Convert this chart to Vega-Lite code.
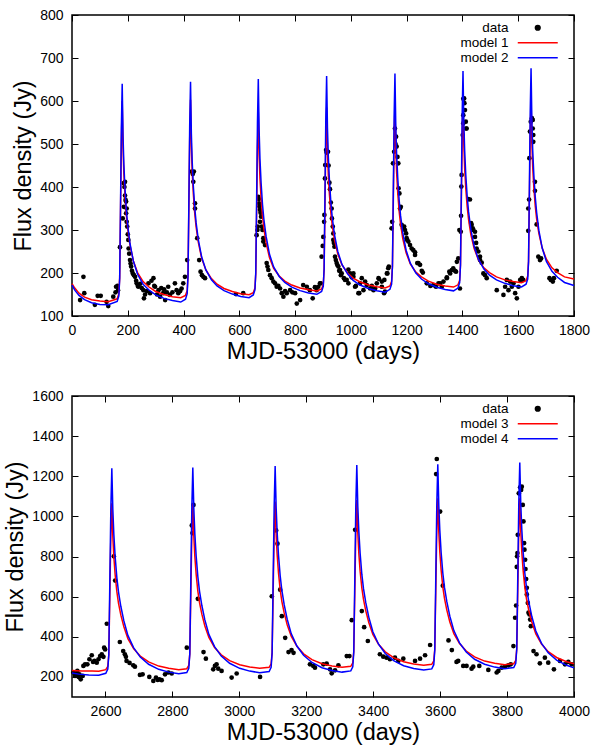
{
"$schema": "https://vega.github.io/schema/vega-lite/v6.json",
"padding": {"left": 3, "top": 7, "right": 10, "bottom": 2},
"spacing": 24,
"config": {
  "font": "Liberation Sans",
  "view": {"stroke": "#000", "strokeWidth": 1.5},
  "axis": {"domain": false, "grid": false, "labelFlush": false, "tickColor": "#000", "tickWidth": 1, "tickSize": -6, "labelFont": "Liberation Sans", "labelFontSize": 14, "labelColor": "#000", "titleFont": "Liberation Sans", "titleFontSize": 23.5, "titleFontWeight": "normal", "titleColor": "#000"},
  "axisX": {"labelPadding": 13, "titlePadding": 2},
  "axisY": {"labelPadding": 15, "titlePadding": 4},
  "legend": {"title": null, "orient": "top-right", "offset": 6, "padding": 0, "symbolSize": 100, "symbolStrokeWidth": 1.5, "labelAlign": "right", "labelOffset": -36, "labelFontSize": 13.5, "labelFont": "Liberation Sans", "labelColor": "#000", "rowPadding": 0}
},
"resolve": {"scale": {"color": "independent"}, "legend": {"color": "independent"}},
"datasets": {
"top": [
{"t":29,"f":137,"s":"data"},{"t":41,"f":191,"s":"data"},{"t":44,"f":153,"s":"data"},{"t":82,"f":126,"s":"data"},{"t":92,"f":147,"s":"data"},{"t":103,"f":147,"s":"data"},{"t":124,"f":133,"s":"data"},{"t":130,"f":123,"s":"data"},{"t":148,"f":145,"s":"data"},{"t":156,"f":155,"s":"data"},{"t":158,"f":168,"s":"data"},{"t":163,"f":170,"s":"data"},{"t":165,"f":160,"s":"data"},
{"t":172,"f":260,"s":"data"},{"t":182,"f":327,"s":"data"},{"t":186,"f":354,"s":"data"},{"t":186,"f":409,"s":"data"},{"t":188,"f":400,"s":"data"},{"t":190,"f":412,"s":"data"},{"t":190,"f":380,"s":"data"},{"t":192,"f":370,"s":"data"},{"t":194,"f":366,"s":"data"},{"t":194,"f":339,"s":"data"},{"t":196,"f":319,"s":"data"},{"t":196,"f":350,"s":"data"},{"t":198,"f":308,"s":"data"},{"t":200,"f":290,"s":"data"},{"t":202,"f":277,"s":"data"},{"t":203,"f":257,"s":"data"},{"t":205,"f":245,"s":"data"},{"t":208,"f":230,"s":"data"},{"t":210,"f":222,"s":"data"},{"t":212,"f":215,"s":"data"},{"t":215,"f":205,"s":"data"},{"t":218,"f":199,"s":"data"},{"t":222,"f":195,"s":"data"},{"t":226,"f":191,"s":"data"},{"t":230,"f":182,"s":"data"},{"t":232,"f":176,"s":"data"},{"t":236,"f":170,"s":"data"},{"t":238,"f":168,"s":"data"},{"t":245,"f":175,"s":"data"},{"t":250,"f":165,"s":"data"},{"t":256,"f":160,"s":"data"},{"t":258,"f":141,"s":"data"},{"t":262,"f":150,"s":"data"},{"t":268,"f":158,"s":"data"},{"t":274,"f":176,"s":"data"},{"t":280,"f":153,"s":"data"},{"t":285,"f":182,"s":"data"},{"t":292,"f":188,"s":"data"},{"t":295,"f":170,"s":"data"},{"t":298,"f":168,"s":"data"},{"t":305,"f":150,"s":"data"},{"t":310,"f":160,"s":"data"},{"t":316,"f":145,"s":"data"},{"t":320,"f":165,"s":"data"},{"t":327,"f":153,"s":"data"},{"t":330,"f":162,"s":"data"},{"t":334,"f":137,"s":"data"},{"t":340,"f":155,"s":"data"},{"t":345,"f":168,"s":"data"},{"t":351,"f":149,"s":"data"},{"t":360,"f":155,"s":"data"},{"t":369,"f":176,"s":"data"},{"t":375,"f":160,"s":"data"},{"t":381,"f":153,"s":"data"},{"t":388,"f":158,"s":"data"},{"t":393,"f":164,"s":"data"},{"t":399,"f":176,"s":"data"},{"t":405,"f":191,"s":"data"},
{"t":413,"f":230,"s":"data"},{"t":429,"f":436,"s":"data"},{"t":433,"f":430,"s":"data"},{"t":437,"f":436,"s":"data"},{"t":435,"f":412,"s":"data"},{"t":441,"f":362,"s":"data"},{"t":441,"f":350,"s":"data"},{"t":449,"f":281,"s":"data"},{"t":456,"f":230,"s":"data"},{"t":461,"f":203,"s":"data"},{"t":466,"f":195,"s":"data"},{"t":471,"f":191,"s":"data"},{"t":477,"f":188,"s":"data"},{"t":588,"f":151,"s":"data"},{"t":614,"f":153,"s":"data"},
{"t":662,"f":288,"s":"data"},{"t":665,"f":300,"s":"data"},{"t":666,"f":308,"s":"data"},{"t":668,"f":377,"s":"data"},{"t":670,"f":372,"s":"data"},{"t":671,"f":362,"s":"data"},{"t":672,"f":355,"s":"data"},{"t":674,"f":347,"s":"data"},{"t":676,"f":340,"s":"data"},{"t":678,"f":331,"s":"data"},{"t":674,"f":319,"s":"data"},{"t":680,"f":308,"s":"data"},{"t":683,"f":300,"s":"data"},{"t":686,"f":281,"s":"data"},{"t":686,"f":273,"s":"data"},{"t":692,"f":265,"s":"data"},{"t":698,"f":223,"s":"data"},{"t":701,"f":215,"s":"data"},{"t":704,"f":207,"s":"data"},{"t":710,"f":195,"s":"data"},{"t":716,"f":188,"s":"data"},{"t":722,"f":180,"s":"data"},{"t":728,"f":176,"s":"data"},{"t":734,"f":168,"s":"data"},{"t":740,"f":170,"s":"data"},{"t":746,"f":164,"s":"data"},{"t":752,"f":153,"s":"data"},{"t":758,"f":145,"s":"data"},{"t":764,"f":158,"s":"data"},{"t":770,"f":153,"s":"data"},{"t":782,"f":160,"s":"data"},{"t":790,"f":155,"s":"data"},{"t":800,"f":153,"s":"data"},{"t":806,"f":129,"s":"data"},{"t":818,"f":137,"s":"data"},{"t":829,"f":172,"s":"data"},{"t":842,"f":168,"s":"data"},{"t":853,"f":160,"s":"data"},{"t":863,"f":141,"s":"data"},{"t":871,"f":167,"s":"data"},{"t":877,"f":160,"s":"data"},{"t":883,"f":168,"s":"data"},{"t":889,"f":176,"s":"data"},{"t":892,"f":176,"s":"data"},
{"t":895,"f":238,"s":"data"},{"t":899,"f":263,"s":"data"},{"t":901,"f":284,"s":"data"},{"t":904,"f":319,"s":"data"},{"t":905,"f":335,"s":"data"},{"t":907,"f":420,"s":"data"},{"t":908,"f":451,"s":"data"},{"t":911,"f":486,"s":"data"},{"t":913,"f":480,"s":"data"},{"t":918,"f":482,"s":"data"},{"t":920,"f":450,"s":"data"},{"t":923,"f":410,"s":"data"},{"t":925,"f":395,"s":"data"},{"t":928,"f":364,"s":"data"},{"t":931,"f":350,"s":"data"},{"t":932,"f":327,"s":"data"},{"t":935,"f":308,"s":"data"},{"t":937,"f":292,"s":"data"},{"t":937,"f":277,"s":"data"},{"t":939,"f":270,"s":"data"},{"t":941,"f":261,"s":"data"},{"t":943,"f":238,"s":"data"},{"t":946,"f":230,"s":"data"},{"t":949,"f":223,"s":"data"},{"t":952,"f":218,"s":"data"},{"t":955,"f":215,"s":"data"},{"t":958,"f":205,"s":"data"},{"t":961,"f":207,"s":"data"},{"t":964,"f":195,"s":"data"},{"t":967,"f":199,"s":"data"},{"t":975,"f":188,"s":"data"},{"t":979,"f":184,"s":"data"},{"t":985,"f":184,"s":"data"},{"t":991,"f":176,"s":"data"},{"t":991,"f":208,"s":"data"},{"t":997,"f":199,"s":"data"},{"t":1003,"f":190,"s":"data"},{"t":1009,"f":199,"s":"data"},{"t":1009,"f":191,"s":"data"},{"t":1015,"f":168,"s":"data"},{"t":1018,"f":170,"s":"data"},{"t":1027,"f":153,"s":"data"},{"t":1030,"f":153,"s":"data"},{"t":1033,"f":176,"s":"data"},{"t":1039,"f":188,"s":"data"},{"t":1045,"f":160,"s":"data"},{"t":1051,"f":180,"s":"data"},{"t":1057,"f":172,"s":"data"},{"t":1069,"f":164,"s":"data"},{"t":1075,"f":170,"s":"data"},{"t":1081,"f":160,"s":"data"},{"t":1087,"f":164,"s":"data"},{"t":1093,"f":176,"s":"data"},{"t":1099,"f":188,"s":"data"},{"t":1101,"f":186,"s":"data"},{"t":1111,"f":168,"s":"data"},{"t":1111,"f":180,"s":"data"},{"t":1119,"f":153,"s":"data"},{"t":1120,"f":184,"s":"data"},{"t":1122,"f":157,"s":"data"},{"t":1129,"f":199,"s":"data"},{"t":1131,"f":199,"s":"data"},{"t":1134,"f":211,"s":"data"},{"t":1136,"f":215,"s":"data"},
{"t":1146,"f":304,"s":"data"},{"t":1148,"f":319,"s":"data"},{"t":1151,"f":455,"s":"data"},{"t":1155,"f":482,"s":"data"},{"t":1158,"f":536,"s":"data"},{"t":1160,"f":500,"s":"data"},{"t":1162,"f":517,"s":"data"},{"t":1164,"f":494,"s":"data"},{"t":1167,"f":470,"s":"data"},{"t":1170,"f":455,"s":"data"},{"t":1171,"f":397,"s":"data"},{"t":1174,"f":385,"s":"data"},{"t":1176,"f":350,"s":"data"},{"t":1179,"f":354,"s":"data"},{"t":1182,"f":312,"s":"data"},{"t":1188,"f":304,"s":"data"},{"t":1191,"f":308,"s":"data"},{"t":1194,"f":300,"s":"data"},{"t":1198,"f":292,"s":"data"},{"t":1200,"f":281,"s":"data"},{"t":1202,"f":277,"s":"data"},{"t":1206,"f":273,"s":"data"},{"t":1212,"f":265,"s":"data"},{"t":1218,"f":257,"s":"data"},{"t":1224,"f":253,"s":"data"},{"t":1230,"f":248,"s":"data"},{"t":1230,"f":242,"s":"data"},{"t":1238,"f":223,"s":"data"},{"t":1242,"f":223,"s":"data"},{"t":1248,"f":219,"s":"data"},{"t":1254,"f":205,"s":"data"},{"t":1258,"f":201,"s":"data"},{"t":1272,"f":176,"s":"data"},{"t":1285,"f":170,"s":"data"},{"t":1296,"f":172,"s":"data"},{"t":1305,"f":168,"s":"data"},{"t":1314,"f":176,"s":"data"},{"t":1320,"f":176,"s":"data"},{"t":1326,"f":168,"s":"data"},{"t":1332,"f":180,"s":"data"},{"t":1344,"f":188,"s":"data"},{"t":1344,"f":190,"s":"data"},{"t":1353,"f":203,"s":"data"},{"t":1356,"f":199,"s":"data"},{"t":1362,"f":207,"s":"data"},{"t":1367,"f":211,"s":"data"},{"t":1373,"f":205,"s":"data"},{"t":1377,"f":203,"s":"data"},{"t":1380,"f":226,"s":"data"},{"t":1385,"f":234,"s":"data"},
{"t":1389,"f":300,"s":"data"},{"t":1391,"f":164,"s":"data"},{"t":1394,"f":296,"s":"data"},{"t":1395,"f":333,"s":"data"},{"t":1396,"f":401,"s":"data"},{"t":1397,"f":428,"s":"data"},{"t":1401,"f":521,"s":"data"},{"t":1403,"f":567,"s":"data"},{"t":1403,"f":605,"s":"data"},{"t":1406,"f":606,"s":"data"},{"t":1407,"f":595,"s":"data"},{"t":1409,"f":579,"s":"data"},{"t":1403,"f":548,"s":"data"},{"t":1412,"f":552,"s":"data"},{"t":1413,"f":536,"s":"data"},{"t":1415,"f":536,"s":"data"},{"t":1421,"f":372,"s":"data"},{"t":1427,"f":371,"s":"data"},{"t":1431,"f":316,"s":"data"},{"t":1433,"f":312,"s":"data"},{"t":1437,"f":304,"s":"data"},{"t":1439,"f":300,"s":"data"},{"t":1445,"f":296,"s":"data"},{"t":1445,"f":284,"s":"data"},{"t":1449,"f":270,"s":"data"},{"t":1451,"f":257,"s":"data"},{"t":1457,"f":250,"s":"data"},{"t":1463,"f":238,"s":"data"},{"t":1463,"f":230,"s":"data"},{"t":1469,"f":224,"s":"data"},{"t":1475,"f":199,"s":"data"},{"t":1481,"f":195,"s":"data"},{"t":1487,"f":188,"s":"data"},
{"t":1523,"f":160,"s":"data"},{"t":1547,"f":149,"s":"data"},{"t":1553,"f":168,"s":"data"},{"t":1559,"f":184,"s":"data"},{"t":1565,"f":160,"s":"data"},{"t":1571,"f":180,"s":"data"},{"t":1577,"f":168,"s":"data"},{"t":1583,"f":176,"s":"data"},{"t":1589,"f":153,"s":"data"},{"t":1595,"f":141,"s":"data"},{"t":1601,"f":168,"s":"data"},{"t":1607,"f":184,"s":"data"},{"t":1613,"f":188,"s":"data"},{"t":1618,"f":184,"s":"data"},
{"t":1636,"f":298,"s":"data"},{"t":1636,"f":350,"s":"data"},{"t":1639,"f":371,"s":"data"},{"t":1640,"f":467,"s":"data"},{"t":1642,"f":529,"s":"data"},{"t":1645,"f":552,"s":"data"},{"t":1649,"f":560,"s":"data"},{"t":1652,"f":556,"s":"data"},{"t":1652,"f":536,"s":"data"},{"t":1654,"f":521,"s":"data"},{"t":1654,"f":505,"s":"data"},{"t":1660,"f":412,"s":"data"},{"t":1660,"f":391,"s":"data"},{"t":1666,"f":313,"s":"data"},{"t":1672,"f":238,"s":"data"},{"t":1678,"f":230,"s":"data"},{"t":1682,"f":234,"s":"data"},{"t":1712,"f":188,"s":"data"},{"t":1717,"f":184,"s":"data"},{"t":1724,"f":180,"s":"data"},{"t":1728,"f":188,"s":"data"},{"t":1738,"f":205,"s":"data"},
{"t":0,"f":175,"s":"model 1"},{"t":10,"f":165,"s":"model 1"},{"t":25,"f":153,"s":"model 1"},{"t":45,"f":144,"s":"model 1"},{"t":70,"f":138,"s":"model 1"},{"t":100,"f":135,"s":"model 1"},{"t":130,"f":133,"s":"model 1"},
{"t":162,"f":140,"s":"model 1"},{"t":168,"f":152,"s":"model 1"},{"t":171,"f":189,"s":"model 1"},{"t":174,"f":343,"s":"model 1"},{"t":177,"f":507,"s":"model 1"},{"t":180,"f":600,"s":"model 1"},{"t":183,"f":490,"s":"model 1"},{"t":186,"f":430,"s":"model 1"},{"t":190,"f":380,"s":"model 1"},{"t":195,"f":334,"s":"model 1"},{"t":200,"f":302,"s":"model 1"},{"t":208,"f":265,"s":"model 1"},{"t":220,"f":228,"s":"model 1"},{"t":235,"f":201,"s":"model 1"},{"t":255,"f":180,"s":"model 1"},{"t":275,"f":168,"s":"model 1"},{"t":300,"f":157,"s":"model 1"},{"t":330,"f":150,"s":"model 1"},{"t":360,"f":145,"s":"model 1"},{"t":390,"f":142.4,"s":"model 1"},
{"t":407,"f":148,"s":"model 1"},{"t":413,"f":159.5,"s":"model 1"},{"t":416,"f":196,"s":"model 1"},{"t":419,"f":349,"s":"model 1"},{"t":422,"f":511,"s":"model 1"},{"t":425,"f":603,"s":"model 1"},{"t":428,"f":494,"s":"model 1"},{"t":431,"f":435,"s":"model 1"},{"t":435,"f":385,"s":"model 1"},{"t":440,"f":339,"s":"model 1"},{"t":445,"f":307,"s":"model 1"},{"t":453,"f":271,"s":"model 1"},{"t":465,"f":234,"s":"model 1"},{"t":480,"f":207,"s":"model 1"},{"t":500,"f":187,"s":"model 1"},{"t":520,"f":174,"s":"model 1"},{"t":545,"f":164,"s":"model 1"},{"t":575,"f":157,"s":"model 1"},{"t":605,"f":152,"s":"model 1"},{"t":635,"f":149.4,"s":"model 1"},
{"t":650,"f":154,"s":"model 1"},{"t":656,"f":165,"s":"model 1"},{"t":659,"f":199,"s":"model 1"},{"t":662,"f":340,"s":"model 1"},{"t":665,"f":490,"s":"model 1"},{"t":668,"f":575,"s":"model 1"},{"t":671,"f":475,"s":"model 1"},{"t":674,"f":420,"s":"model 1"},{"t":678,"f":374,"s":"model 1"},{"t":683,"f":333,"s":"model 1"},{"t":688,"f":303,"s":"model 1"},{"t":696,"f":270,"s":"model 1"},{"t":708,"f":236,"s":"model 1"},{"t":723,"f":211,"s":"model 1"},{"t":743,"f":193,"s":"model 1"},{"t":763,"f":181,"s":"model 1"},{"t":788,"f":172,"s":"model 1"},{"t":818,"f":165,"s":"model 1"},{"t":848,"f":161,"s":"model 1"},{"t":878,"f":158.3,"s":"model 1"},
{"t":895,"f":163,"s":"model 1"},{"t":901,"f":174,"s":"model 1"},{"t":904,"f":208,"s":"model 1"},{"t":907,"f":350,"s":"model 1"},{"t":910,"f":499,"s":"model 1"},{"t":913,"f":585,"s":"model 1"},{"t":916,"f":484,"s":"model 1"},{"t":919,"f":429,"s":"model 1"},{"t":923,"f":383,"s":"model 1"},{"t":928,"f":341,"s":"model 1"},{"t":933,"f":311,"s":"model 1"},{"t":941,"f":278,"s":"model 1"},{"t":953,"f":244,"s":"model 1"},{"t":968,"f":219,"s":"model 1"},{"t":988,"f":200,"s":"model 1"},{"t":1008,"f":188,"s":"model 1"},{"t":1033,"f":179,"s":"model 1"},{"t":1063,"f":172,"s":"model 1"},{"t":1093,"f":168,"s":"model 1"},{"t":1123,"f":165.3,"s":"model 1"},
{"t":1140,"f":170,"s":"model 1"},{"t":1146,"f":181,"s":"model 1"},{"t":1149,"f":215,"s":"model 1"},{"t":1152,"f":356,"s":"model 1"},{"t":1155,"f":505,"s":"model 1"},{"t":1158,"f":590,"s":"model 1"},{"t":1161,"f":488,"s":"model 1"},{"t":1164,"f":433,"s":"model 1"},{"t":1168,"f":386,"s":"model 1"},{"t":1173,"f":344,"s":"model 1"},{"t":1178,"f":314,"s":"model 1"},{"t":1186,"f":280,"s":"model 1"},{"t":1198,"f":247,"s":"model 1"},{"t":1213,"f":221,"s":"model 1"},{"t":1233,"f":202,"s":"model 1"},{"t":1253,"f":191,"s":"model 1"},{"t":1278,"f":181,"s":"model 1"},{"t":1308,"f":174,"s":"model 1"},{"t":1338,"f":170,"s":"model 1"},{"t":1368,"f":167.3,"s":"model 1"},
{"t":1384,"f":172.5,"s":"model 1"},{"t":1390,"f":183,"s":"model 1"},{"t":1393,"f":218,"s":"model 1"},{"t":1396,"f":361,"s":"model 1"},{"t":1399,"f":513,"s":"model 1"},{"t":1402,"f":600,"s":"model 1"},{"t":1405,"f":498,"s":"model 1"},{"t":1408,"f":443,"s":"model 1"},{"t":1412,"f":396,"s":"model 1"},{"t":1417,"f":354,"s":"model 1"},{"t":1422,"f":324,"s":"model 1"},{"t":1430,"f":290,"s":"model 1"},{"t":1442,"f":257,"s":"model 1"},{"t":1457,"f":231,"s":"model 1"},{"t":1477,"f":212,"s":"model 1"},{"t":1497,"f":201,"s":"model 1"},{"t":1522,"f":191,"s":"model 1"},{"t":1552,"f":184,"s":"model 1"},{"t":1582,"f":180,"s":"model 1"},{"t":1612,"f":177.3,"s":"model 1"},
{"t":1628,"f":182,"s":"model 1"},{"t":1634,"f":193,"s":"model 1"},{"t":1637,"f":227,"s":"model 1"},{"t":1640,"f":369,"s":"model 1"},{"t":1643,"f":519,"s":"model 1"},{"t":1646,"f":605,"s":"model 1"},{"t":1649,"f":502,"s":"model 1"},{"t":1652,"f":446,"s":"model 1"},{"t":1656,"f":399,"s":"model 1"},{"t":1661,"f":356,"s":"model 1"},{"t":1666,"f":326,"s":"model 1"},{"t":1674,"f":292,"s":"model 1"},{"t":1686,"f":258,"s":"model 1"},{"t":1701,"f":232,"s":"model 1"},{"t":1721,"f":212,"s":"model 1"},{"t":1741,"f":201,"s":"model 1"},{"t":1766,"f":191,"s":"model 1"},{"t":1800,"f":186,"s":"model 1"},
{"t":0,"f":172,"s":"model 2"},{"t":10,"f":160,"s":"model 2"},{"t":25,"f":148,"s":"model 2"},{"t":45,"f":138,"s":"model 2"},{"t":70,"f":131,"s":"model 2"},{"t":100,"f":127,"s":"model 2"},{"t":130,"f":126,"s":"model 2"},
{"t":162,"f":134,"s":"model 2"},{"t":168,"f":147,"s":"model 2"},{"t":171,"f":188,"s":"model 2"},{"t":174,"f":357,"s":"model 2"},{"t":177,"f":537,"s":"model 2"},{"t":180,"f":640,"s":"model 2"},{"t":183,"f":518,"s":"model 2"},{"t":186,"f":452,"s":"model 2"},{"t":190,"f":396,"s":"model 2"},{"t":195,"f":345,"s":"model 2"},{"t":200,"f":309,"s":"model 2"},{"t":208,"f":268,"s":"model 2"},{"t":220,"f":228,"s":"model 2"},{"t":235,"f":197,"s":"model 2"},{"t":255,"f":174,"s":"model 2"},{"t":275,"f":161,"s":"model 2"},{"t":300,"f":149,"s":"model 2"},{"t":330,"f":141,"s":"model 2"},{"t":360,"f":136,"s":"model 2"},{"t":390,"f":132.5,"s":"model 2"},
{"t":407,"f":139,"s":"model 2"},{"t":413,"f":152,"s":"model 2"},{"t":416,"f":193,"s":"model 2"},{"t":419,"f":362,"s":"model 2"},{"t":422,"f":542,"s":"model 2"},{"t":425,"f":645,"s":"model 2"},{"t":428,"f":524,"s":"model 2"},{"t":431,"f":459,"s":"model 2"},{"t":435,"f":403,"s":"model 2"},{"t":440,"f":353,"s":"model 2"},{"t":445,"f":317,"s":"model 2"},{"t":453,"f":277,"s":"model 2"},{"t":465,"f":237,"s":"model 2"},{"t":480,"f":207,"s":"model 2"},{"t":500,"f":184,"s":"model 2"},{"t":520,"f":170,"s":"model 2"},{"t":545,"f":159,"s":"model 2"},{"t":575,"f":151,"s":"model 2"},{"t":605,"f":145.5,"s":"model 2"},{"t":635,"f":142.5,"s":"model 2"},
{"t":650,"f":149,"s":"model 2"},{"t":656,"f":161,"s":"model 2"},{"t":659,"f":202,"s":"model 2"},{"t":662,"f":371,"s":"model 2"},{"t":665,"f":549,"s":"model 2"},{"t":668,"f":651,"s":"model 2"},{"t":671,"f":531,"s":"model 2"},{"t":674,"f":465,"s":"model 2"},{"t":678,"f":410,"s":"model 2"},{"t":683,"f":360,"s":"model 2"},{"t":688,"f":325,"s":"model 2"},{"t":696,"f":285,"s":"model 2"},{"t":708,"f":244,"s":"model 2"},{"t":723,"f":214,"s":"model 2"},{"t":743,"f":192,"s":"model 2"},{"t":763,"f":178,"s":"model 2"},{"t":788,"f":167,"s":"model 2"},{"t":818,"f":159,"s":"model 2"},{"t":848,"f":153.5,"s":"model 2"},{"t":878,"f":150.5,"s":"model 2"},
{"t":895,"f":157,"s":"model 2"},{"t":901,"f":169,"s":"model 2"},{"t":904,"f":210,"s":"model 2"},{"t":907,"f":378,"s":"model 2"},{"t":910,"f":556,"s":"model 2"},{"t":913,"f":658,"s":"model 2"},{"t":916,"f":537,"s":"model 2"},{"t":919,"f":472,"s":"model 2"},{"t":923,"f":416,"s":"model 2"},{"t":928,"f":366,"s":"model 2"},{"t":933,"f":330,"s":"model 2"},{"t":941,"f":290,"s":"model 2"},{"t":953,"f":250,"s":"model 2"},{"t":968,"f":220,"s":"model 2"},{"t":988,"f":198,"s":"model 2"},{"t":1008,"f":183,"s":"model 2"},{"t":1033,"f":172,"s":"model 2"},{"t":1063,"f":164,"s":"model 2"},{"t":1093,"f":158.5,"s":"model 2"},{"t":1123,"f":155.5,"s":"model 2"},
{"t":1140,"f":162,"s":"model 2"},{"t":1146,"f":174,"s":"model 2"},{"t":1149,"f":215,"s":"model 2"},{"t":1152,"f":384,"s":"model 2"},{"t":1155,"f":562,"s":"model 2"},{"t":1158,"f":664,"s":"model 2"},{"t":1161,"f":542,"s":"model 2"},{"t":1164,"f":476,"s":"model 2"},{"t":1168,"f":421,"s":"model 2"},{"t":1173,"f":370,"s":"model 2"},{"t":1178,"f":334,"s":"model 2"},{"t":1186,"f":294,"s":"model 2"},{"t":1198,"f":253,"s":"model 2"},{"t":1213,"f":223,"s":"model 2"},{"t":1233,"f":200,"s":"model 2"},{"t":1253,"f":186,"s":"model 2"},{"t":1278,"f":175,"s":"model 2"},{"t":1308,"f":167,"s":"model 2"},{"t":1338,"f":161.6,"s":"model 2"},{"t":1368,"f":158.5,"s":"model 2"},
{"t":1384,"f":165,"s":"model 2"},{"t":1390,"f":177.5,"s":"model 2"},{"t":1393,"f":219,"s":"model 2"},{"t":1396,"f":388,"s":"model 2"},{"t":1399,"f":567,"s":"model 2"},{"t":1402,"f":670,"s":"model 2"},{"t":1405,"f":549,"s":"model 2"},{"t":1408,"f":484,"s":"model 2"},{"t":1412,"f":428,"s":"model 2"},{"t":1417,"f":378,"s":"model 2"},{"t":1422,"f":342,"s":"model 2"},{"t":1430,"f":302,"s":"model 2"},{"t":1442,"f":262,"s":"model 2"},{"t":1457,"f":232,"s":"model 2"},{"t":1477,"f":209,"s":"model 2"},{"t":1497,"f":195,"s":"model 2"},{"t":1522,"f":184,"s":"model 2"},{"t":1552,"f":176,"s":"model 2"},{"t":1582,"f":170.5,"s":"model 2"},{"t":1612,"f":167.5,"s":"model 2"},
{"t":1628,"f":174,"s":"model 2"},{"t":1634,"f":186,"s":"model 2"},{"t":1637,"f":227,"s":"model 2"},{"t":1640,"f":396,"s":"model 2"},{"t":1643,"f":574,"s":"model 2"},{"t":1646,"f":676,"s":"model 2"},{"t":1649,"f":552,"s":"model 2"},{"t":1652,"f":485,"s":"model 2"},{"t":1656,"f":428,"s":"model 2"},{"t":1661,"f":377,"s":"model 2"},{"t":1666,"f":341,"s":"model 2"},{"t":1674,"f":299,"s":"model 2"},{"t":1686,"f":258,"s":"model 2"},{"t":1701,"f":227,"s":"model 2"},{"t":1721,"f":204,"s":"model 2"},{"t":1741,"f":190,"s":"model 2"},{"t":1766,"f":178,"s":"model 2"},{"t":1800,"f":171,"s":"model 2"}
],
"bot": [
{"t":2504,"f":222,"s":"data"},{"t":2509,"f":205,"s":"data"},{"t":2512,"f":215,"s":"data"},{"t":2516,"f":230,"s":"data"},{"t":2520,"f":200,"s":"data"},{"t":2522,"f":213,"s":"data"},{"t":2526,"f":188,"s":"data"},{"t":2532,"f":205,"s":"data"},{"t":2534,"f":255,"s":"data"},{"t":2539,"f":263,"s":"data"},{"t":2546,"f":263,"s":"data"},{"t":2552,"f":288,"s":"data"},{"t":2559,"f":308,"s":"data"},{"t":2563,"f":275,"s":"data"},{"t":2567,"f":280,"s":"data"},{"t":2574,"f":271,"s":"data"},{"t":2579,"f":288,"s":"data"},{"t":2584,"f":304,"s":"data"},{"t":2589,"f":313,"s":"data"},{"t":2594,"f":300,"s":"data"},{"t":2596,"f":346,"s":"data"},{"t":2599,"f":337,"s":"data"},{"t":2604,"f":465,"s":"data"},{"t":2625,"f":801,"s":"data"},{"t":2629,"f":680,"s":"data"},{"t":2643,"f":374,"s":"data"},{"t":2653,"f":329,"s":"data"},{"t":2658,"f":313,"s":"data"},{"t":2661,"f":300,"s":"data"},{"t":2663,"f":280,"s":"data"},{"t":2672,"f":270,"s":"data"},{"t":2683,"f":258,"s":"data"},{"t":2688,"f":251,"s":"data"},{"t":2703,"f":210,"s":"data"},{"t":2711,"f":213,"s":"data"},{"t":2731,"f":200,"s":"data"},{"t":2743,"f":180,"s":"data"},{"t":2751,"f":197,"s":"data"},{"t":2756,"f":185,"s":"data"},{"t":2761,"f":188,"s":"data"},{"t":2768,"f":184,"s":"data"},{"t":2778,"f":213,"s":"data"},{"t":2788,"f":222,"s":"data"},{"t":2798,"f":217,"s":"data"},
{"t":2843,"f":346,"s":"data"},{"t":2858,"f":955,"s":"data"},{"t":2860,"f":917,"s":"data"},{"t":2863,"f":1057,"s":"data"},{"t":2876,"f":589,"s":"data"},{"t":2893,"f":324,"s":"data"},{"t":2900,"f":291,"s":"data"},{"t":2922,"f":238,"s":"data"},{"t":2927,"f":255,"s":"data"},{"t":2932,"f":263,"s":"data"},{"t":2937,"f":241,"s":"data"},{"t":2947,"f":230,"s":"data"},{"t":2977,"f":197,"s":"data"},{"t":2992,"f":217,"s":"data"},{"t":3062,"f":200,"s":"data"},
{"t":3097,"f":602,"s":"data"},{"t":3110,"f":930,"s":"data"},{"t":3114,"f":864,"s":"data"},{"t":3122,"f":635,"s":"data"},{"t":3127,"f":503,"s":"data"},{"t":3137,"f":395,"s":"data"},{"t":3147,"f":324,"s":"data"},{"t":3156,"f":334,"s":"data"},{"t":3162,"f":320,"s":"data"},
{"t":3211,"f":263,"s":"data"},{"t":3221,"f":255,"s":"data"},{"t":3226,"f":246,"s":"data"},{"t":3251,"f":263,"s":"data"},{"t":3261,"f":266,"s":"data"},{"t":3271,"f":238,"s":"data"},{"t":3276,"f":218,"s":"data"},{"t":3286,"f":233,"s":"data"},{"t":3296,"f":258,"s":"data"},
{"t":3321,"f":304,"s":"data"},{"t":3329,"f":304,"s":"data"},{"t":3336,"f":483,"s":"data"},{"t":3346,"f":933,"s":"data"},{"t":3366,"f":528,"s":"data"},{"t":3373,"f":448,"s":"data"},{"t":3384,"f":379,"s":"data"},{"t":3420,"f":313,"s":"data"},{"t":3430,"f":301,"s":"data"},{"t":3440,"f":296,"s":"data"},{"t":3450,"f":288,"s":"data"},{"t":3465,"f":296,"s":"data"},{"t":3475,"f":280,"s":"data"},{"t":3490,"f":291,"s":"data"},{"t":3525,"f":280,"s":"data"},{"t":3540,"f":291,"s":"data"},{"t":3555,"f":308,"s":"data"},{"t":3570,"f":359,"s":"data"},
{"t":3588,"f":1211,"s":"data"},{"t":3590,"f":1286,"s":"data"},{"t":3600,"f":1024,"s":"data"},{"t":3608,"f":655,"s":"data"},{"t":3625,"f":382,"s":"data"},{"t":3635,"f":334,"s":"data"},{"t":3649,"f":275,"s":"data"},{"t":3654,"f":280,"s":"data"},{"t":3669,"f":255,"s":"data"},{"t":3679,"f":255,"s":"data"},{"t":3694,"f":241,"s":"data"},{"t":3699,"f":251,"s":"data"},{"t":3717,"f":255,"s":"data"},{"t":3744,"f":235,"s":"data"},{"t":3769,"f":222,"s":"data"},{"t":3774,"f":230,"s":"data"},{"t":3784,"f":246,"s":"data"},{"t":3794,"f":251,"s":"data"},{"t":3804,"f":258,"s":"data"},{"t":3811,"f":263,"s":"data"},{"t":3819,"f":354,"s":"data"},
{"t":3824,"f":495,"s":"data"},{"t":3827,"f":556,"s":"data"},{"t":3829,"f":748,"s":"data"},{"t":3830,"f":801,"s":"data"},{"t":3831,"f":817,"s":"data"},{"t":3832,"f":908,"s":"data"},{"t":3835,"f":1115,"s":"data"},{"t":3839,"f":1145,"s":"data"},{"t":3842,"f":1132,"s":"data"},{"t":3844,"f":1148,"s":"data"},{"t":3847,"f":1057,"s":"data"},{"t":3849,"f":975,"s":"data"},{"t":3851,"f":867,"s":"data"},{"t":3852,"f":834,"s":"data"},{"t":3854,"f":784,"s":"data"},{"t":3855,"f":738,"s":"data"},{"t":3857,"f":688,"s":"data"},{"t":3859,"f":644,"s":"data"},{"t":3859,"f":611,"s":"data"},{"t":3862,"f":569,"s":"data"},{"t":3864,"f":520,"s":"data"},{"t":3867,"f":511,"s":"data"},{"t":3869,"f":486,"s":"data"},{"t":3871,"f":453,"s":"data"},{"t":3879,"f":329,"s":"data"},{"t":3888,"f":313,"s":"data"},{"t":3898,"f":268,"s":"data"},{"t":3913,"f":296,"s":"data"},{"t":3923,"f":271,"s":"data"},{"t":3940,"f":238,"s":"data"},{"t":3958,"f":280,"s":"data"},{"t":3973,"f":263,"s":"data"},{"t":3983,"f":275,"s":"data"},{"t":3993,"f":263,"s":"data"},
{"t":2500,"f":232,"s":"model 3"},{"t":2530,"f":230,"s":"model 3"},{"t":2560,"f":229,"s":"model 3"},{"t":2580,"f":228,"s":"model 3"},
{"t":2601,"f":236,"s":"model 3"},{"t":2607,"f":253,"s":"model 3"},{"t":2610,"f":312,"s":"model 3"},{"t":2613,"f":605,"s":"model 3"},{"t":2616,"f":898,"s":"model 3"},{"t":2619,"f":1066,"s":"model 3"},{"t":2622,"f":899,"s":"model 3"},{"t":2625,"f":799,"s":"model 3"},{"t":2629,"f":708,"s":"model 3"},{"t":2634,"f":625,"s":"model 3"},{"t":2639,"f":566,"s":"model 3"},{"t":2646,"f":508,"s":"model 3"},{"t":2655,"f":450,"s":"model 3"},{"t":2667,"f":391,"s":"model 3"},{"t":2684,"f":341,"s":"model 3"},{"t":2704,"f":304,"s":"model 3"},{"t":2729,"f":275,"s":"model 3"},{"t":2759,"f":254,"s":"model 3"},{"t":2789,"f":243,"s":"model 3"},{"t":2819,"f":236,"s":"model 3"},
{"t":2843,"f":241,"s":"model 3"},{"t":2849,"f":258,"s":"model 3"},{"t":2852,"f":316,"s":"model 3"},{"t":2855,"f":608,"s":"model 3"},{"t":2858,"f":899,"s":"model 3"},{"t":2861,"f":1066,"s":"model 3"},{"t":2864,"f":901,"s":"model 3"},{"t":2867,"f":802,"s":"model 3"},{"t":2871,"f":711,"s":"model 3"},{"t":2876,"f":628,"s":"model 3"},{"t":2881,"f":570,"s":"model 3"},{"t":2888,"f":513,"s":"model 3"},{"t":2897,"f":454,"s":"model 3"},{"t":2909,"f":397,"s":"model 3"},{"t":2926,"f":347,"s":"model 3"},{"t":2946,"f":310,"s":"model 3"},{"t":2971,"f":281,"s":"model 3"},{"t":3001,"f":261,"s":"model 3"},{"t":3031,"f":250,"s":"model 3"},{"t":3061,"f":243,"s":"model 3"},
{"t":3089,"f":248,"s":"model 3"},{"t":3095,"f":265,"s":"model 3"},{"t":3098,"f":323,"s":"model 3"},{"t":3101,"f":615,"s":"model 3"},{"t":3104,"f":907,"s":"model 3"},{"t":3107,"f":1074,"s":"model 3"},{"t":3110,"f":908,"s":"model 3"},{"t":3113,"f":809,"s":"model 3"},{"t":3117,"f":718,"s":"model 3"},{"t":3122,"f":635,"s":"model 3"},{"t":3127,"f":577,"s":"model 3"},{"t":3134,"f":519,"s":"model 3"},{"t":3143,"f":460,"s":"model 3"},{"t":3155,"f":403,"s":"model 3"},{"t":3172,"f":353,"s":"model 3"},{"t":3192,"f":315,"s":"model 3"},{"t":3217,"f":286,"s":"model 3"},{"t":3247,"f":266,"s":"model 3"},{"t":3277,"f":255,"s":"model 3"},{"t":3307,"f":248,"s":"model 3"},
{"t":3333,"f":253,"s":"model 3"},{"t":3339,"f":270,"s":"model 3"},{"t":3342,"f":329,"s":"model 3"},{"t":3345,"f":622,"s":"model 3"},{"t":3348,"f":915,"s":"model 3"},{"t":3351,"f":1082,"s":"model 3"},{"t":3354,"f":917,"s":"model 3"},{"t":3357,"f":817,"s":"model 3"},{"t":3361,"f":726,"s":"model 3"},{"t":3366,"f":644,"s":"model 3"},{"t":3371,"f":586,"s":"model 3"},{"t":3378,"f":528,"s":"model 3"},{"t":3387,"f":470,"s":"model 3"},{"t":3399,"f":412,"s":"model 3"},{"t":3416,"f":363,"s":"model 3"},{"t":3436,"f":325,"s":"model 3"},{"t":3461,"f":296,"s":"model 3"},{"t":3491,"f":276,"s":"model 3"},{"t":3521,"f":265,"s":"model 3"},{"t":3551,"f":258,"s":"model 3"},
{"t":3575,"f":263,"s":"model 3"},{"t":3581,"f":280,"s":"model 3"},{"t":3584,"f":339,"s":"model 3"},{"t":3587,"f":631,"s":"model 3"},{"t":3590,"f":923,"s":"model 3"},{"t":3593,"f":1090,"s":"model 3"},{"t":3596,"f":924,"s":"model 3"},{"t":3599,"f":824,"s":"model 3"},{"t":3603,"f":732,"s":"model 3"},{"t":3608,"f":649,"s":"model 3"},{"t":3613,"f":591,"s":"model 3"},{"t":3620,"f":533,"s":"model 3"},{"t":3629,"f":474,"s":"model 3"},{"t":3641,"f":416,"s":"model 3"},{"t":3658,"f":366,"s":"model 3"},{"t":3678,"f":329,"s":"model 3"},{"t":3703,"f":300,"s":"model 3"},{"t":3733,"f":279,"s":"model 3"},{"t":3763,"f":268,"s":"model 3"},{"t":3793,"f":261,"s":"model 3"},
{"t":3820,"f":266,"s":"model 3"},{"t":3826,"f":283,"s":"model 3"},{"t":3829,"f":341,"s":"model 3"},{"t":3832,"f":632,"s":"model 3"},{"t":3835,"f":924,"s":"model 3"},{"t":3838,"f":1090,"s":"model 3"},{"t":3841,"f":923,"s":"model 3"},{"t":3844,"f":823,"s":"model 3"},{"t":3848,"f":731,"s":"model 3"},{"t":3853,"f":647,"s":"model 3"},{"t":3858,"f":589,"s":"model 3"},{"t":3865,"f":531,"s":"model 3"},{"t":3874,"f":472,"s":"model 3"},{"t":3886,"f":414,"s":"model 3"},{"t":3903,"f":364,"s":"model 3"},{"t":3923,"f":326,"s":"model 3"},{"t":3948,"f":297,"s":"model 3"},{"t":3978,"f":276,"s":"model 3"},{"t":4000,"f":266,"s":"model 3"},
{"t":2500,"f":220,"s":"model 4"},{"t":2520,"f":214,"s":"model 4"},{"t":2550,"f":210,"s":"model 4"},{"t":2580,"f":208,"s":"model 4"},
{"t":2601,"f":218,"s":"model 4"},{"t":2607,"f":239,"s":"model 4"},{"t":2610,"f":311,"s":"model 4"},{"t":2613,"f":672,"s":"model 4"},{"t":2616,"f":1034,"s":"model 4"},{"t":2619,"f":1240,"s":"model 4"},{"t":2622,"f":1034,"s":"model 4"},{"t":2625,"f":911,"s":"model 4"},{"t":2629,"f":798,"s":"model 4"},{"t":2634,"f":695,"s":"model 4"},{"t":2639,"f":623,"s":"model 4"},{"t":2646,"f":551,"s":"model 4"},{"t":2655,"f":479,"s":"model 4"},{"t":2667,"f":407,"s":"model 4"},{"t":2684,"f":346,"s":"model 4"},{"t":2704,"f":299,"s":"model 4"},{"t":2729,"f":263,"s":"model 4"},{"t":2759,"f":238,"s":"model 4"},{"t":2789,"f":224,"s":"model 4"},{"t":2819,"f":216,"s":"model 4"},
{"t":2843,"f":222,"s":"model 4"},{"t":2849,"f":243,"s":"model 4"},{"t":2852,"f":315,"s":"model 4"},{"t":2855,"f":676,"s":"model 4"},{"t":2858,"f":1038,"s":"model 4"},{"t":2861,"f":1244,"s":"model 4"},{"t":2864,"f":1039,"s":"model 4"},{"t":2867,"f":915,"s":"model 4"},{"t":2871,"f":802,"s":"model 4"},{"t":2876,"f":700,"s":"model 4"},{"t":2881,"f":628,"s":"model 4"},{"t":2888,"f":556,"s":"model 4"},{"t":2897,"f":484,"s":"model 4"},{"t":2909,"f":412,"s":"model 4"},{"t":2926,"f":351,"s":"model 4"},{"t":2946,"f":304,"s":"model 4"},{"t":2971,"f":268,"s":"model 4"},{"t":3001,"f":243,"s":"model 4"},{"t":3031,"f":229,"s":"model 4"},{"t":3061,"f":221,"s":"model 4"},
{"t":3089,"f":227,"s":"model 4"},{"t":3095,"f":248,"s":"model 4"},{"t":3098,"f":320,"s":"model 4"},{"t":3101,"f":682,"s":"model 4"},{"t":3104,"f":1044,"s":"model 4"},{"t":3107,"f":1251,"s":"model 4"},{"t":3110,"f":1045,"s":"model 4"},{"t":3113,"f":921,"s":"model 4"},{"t":3117,"f":808,"s":"model 4"},{"t":3122,"f":705,"s":"model 4"},{"t":3127,"f":632,"s":"model 4"},{"t":3134,"f":560,"s":"model 4"},{"t":3143,"f":488,"s":"model 4"},{"t":3155,"f":416,"s":"model 4"},{"t":3172,"f":354,"s":"model 4"},{"t":3192,"f":308,"s":"model 4"},{"t":3217,"f":272,"s":"model 4"},{"t":3247,"f":246,"s":"model 4"},{"t":3277,"f":232,"s":"model 4"},{"t":3307,"f":224,"s":"model 4"},
{"t":3333,"f":230,"s":"model 4"},{"t":3339,"f":251,"s":"model 4"},{"t":3342,"f":324,"s":"model 4"},{"t":3345,"f":686,"s":"model 4"},{"t":3348,"f":1049,"s":"model 4"},{"t":3351,"f":1256,"s":"model 4"},{"t":3354,"f":1051,"s":"model 4"},{"t":3357,"f":928,"s":"model 4"},{"t":3361,"f":815,"s":"model 4"},{"t":3366,"f":712,"s":"model 4"},{"t":3371,"f":640,"s":"model 4"},{"t":3378,"f":569,"s":"model 4"},{"t":3387,"f":497,"s":"model 4"},{"t":3399,"f":425,"s":"model 4"},{"t":3416,"f":363,"s":"model 4"},{"t":3436,"f":317,"s":"model 4"},{"t":3461,"f":281,"s":"model 4"},{"t":3491,"f":256,"s":"model 4"},{"t":3521,"f":242,"s":"model 4"},{"t":3551,"f":234,"s":"model 4"},
{"t":3575,"f":240,"s":"model 4"},{"t":3581,"f":261,"s":"model 4"},{"t":3584,"f":333,"s":"model 4"},{"t":3587,"f":694,"s":"model 4"},{"t":3590,"f":1054,"s":"model 4"},{"t":3593,"f":1260,"s":"model 4"},{"t":3596,"f":1055,"s":"model 4"},{"t":3599,"f":933,"s":"model 4"},{"t":3603,"f":820,"s":"model 4"},{"t":3608,"f":718,"s":"model 4"},{"t":3613,"f":646,"s":"model 4"},{"t":3620,"f":575,"s":"model 4"},{"t":3629,"f":503,"s":"model 4"},{"t":3641,"f":431,"s":"model 4"},{"t":3658,"f":370,"s":"model 4"},{"t":3678,"f":324,"s":"model 4"},{"t":3703,"f":288,"s":"model 4"},{"t":3733,"f":263,"s":"model 4"},{"t":3763,"f":249,"s":"model 4"},{"t":3793,"f":241,"s":"model 4"},
{"t":3820,"f":247,"s":"model 4"},{"t":3826,"f":268,"s":"model 4"},{"t":3829,"f":340,"s":"model 4"},{"t":3832,"f":701,"s":"model 4"},{"t":3835,"f":1062,"s":"model 4"},{"t":3838,"f":1268,"s":"model 4"},{"t":3841,"f":1061,"s":"model 4"},{"t":3844,"f":936,"s":"model 4"},{"t":3848,"f":823,"s":"model 4"},{"t":3853,"f":719,"s":"model 4"},{"t":3858,"f":646,"s":"model 4"},{"t":3865,"f":574,"s":"model 4"},{"t":3874,"f":501,"s":"model 4"},{"t":3886,"f":429,"s":"model 4"},{"t":3903,"f":367,"s":"model 4"},{"t":3923,"f":320,"s":"model 4"},{"t":3948,"f":284,"s":"model 4"},{"t":3978,"f":258,"s":"model 4"},{"t":4000,"f":245,"s":"model 4"}
]
},
"vconcat": [
{
  "width": 502, "height": 301,
  "data": {"name": "top"},
  "resolve": {"axis": {"x": "independent", "y": "independent"}},
  "layer": [
    {
      "transform": [{"filter": "datum.s === 'data'"}],
      "mark": {"type": "point", "filled": true, "shape": "circle", "size": 22, "opacity": 1},
      "encoding": {
        "x": {"field": "t", "type": "quantitative", "scale": {"domain": [0, 1800], "nice": false, "zero": false}, "axis": {"orient": "bottom", "format": "d", "values": [0,200,400,600,800,1000,1200,1400,1600,1800], "title": "MJD-53000 (days)"}},
        "y": {"field": "f", "type": "quantitative", "scale": {"domain": [100, 800], "nice": false, "zero": false}, "axis": {"orient": "left", "format": "d", "values": [100,200,300,400,500,600,700,800], "title": "Flux density (Jy)"}},
        "color": {"field": "s", "type": "nominal", "scale": {"domain": ["data", "model 1", "model 2"], "range": ["#000000", "#ff0000", "#0000ff"]},
          "legend": {"encode": {"symbols": {"update": {
            "shape": {"signal": "datum.value === 'data' ? 'circle' : 'M-4,0H4M5.4,0'"},
            "size": {"signal": "datum.value === 'data' ? 22 : 100"},
            "fill": {"signal": "datum.value === 'data' ? '#000000' : 'transparent'"},
            "stroke": {"signal": "datum.value === 'data' ? 'transparent' : datum.value === 'model 1' ? '#ff0000' : '#0000ff'"},
            "strokeWidth": {"value": 1.5},
            "opacity": {"value": 1}}}}}}
      }
    },
    {
      "transform": [{"filter": "datum.s !== 'data'"}],
      "mark": {"type": "line", "strokeWidth": 1.5},
      "encoding": {
        "x": {"field": "t", "type": "quantitative", "axis": {"orient": "top", "values": [0,200,400,600,800,1000,1200,1400,1600,1800], "labels": false, "title": null}},
        "y": {"field": "f", "type": "quantitative", "axis": {"orient": "right", "values": [100,200,300,400,500,600,700,800], "labels": false, "title": null}},
        "color": {"field": "s", "type": "nominal", "scale": {"domain": ["data", "model 1", "model 2"], "range": ["#000000", "#ff0000", "#0000ff"]},
          "legend": {"encode": {"symbols": {"update": {
            "shape": {"signal": "datum.value === 'data' ? 'circle' : 'M-4,0H4M5.4,0'"},
            "size": {"signal": "datum.value === 'data' ? 22 : 100"},
            "fill": {"signal": "datum.value === 'data' ? '#000000' : 'transparent'"},
            "stroke": {"signal": "datum.value === 'data' ? 'transparent' : datum.value === 'model 1' ? '#ff0000' : '#0000ff'"},
            "strokeWidth": {"value": 1.5},
            "opacity": {"value": 1}}}}}}
      }
    }
  ]
},
{
  "width": 502, "height": 301,
  "data": {"name": "bot"},
  "resolve": {"axis": {"x": "independent", "y": "independent"}},
  "layer": [
    {
      "transform": [{"filter": "datum.s === 'data'"}],
      "mark": {"type": "point", "filled": true, "shape": "circle", "size": 22, "opacity": 1},
      "encoding": {
        "x": {"field": "t", "type": "quantitative", "scale": {"domain": [2500, 4000], "nice": false, "zero": false}, "axis": {"orient": "bottom", "format": "d", "values": [2600,2800,3000,3200,3400,3600,3800,4000], "title": "MJD-53000 (days)"}},
        "y": {"field": "f", "type": "quantitative", "scale": {"domain": [100, 1600], "nice": false, "zero": false}, "axis": {"orient": "left", "format": "d", "values": [200,400,600,800,1000,1200,1400,1600], "title": "Flux density (Jy)"}},
        "color": {"field": "s", "type": "nominal", "scale": {"domain": ["data", "model 3", "model 4"], "range": ["#000000", "#ff0000", "#0000ff"]},
          "legend": {"encode": {"symbols": {"update": {
            "shape": {"signal": "datum.value === 'data' ? 'circle' : 'M-4,0H4M5.4,0'"},
            "size": {"signal": "datum.value === 'data' ? 22 : 100"},
            "fill": {"signal": "datum.value === 'data' ? '#000000' : 'transparent'"},
            "stroke": {"signal": "datum.value === 'data' ? 'transparent' : datum.value === 'model 3' ? '#ff0000' : '#0000ff'"},
            "strokeWidth": {"value": 1.5},
            "opacity": {"value": 1}}}}}}
      }
    },
    {
      "transform": [{"filter": "datum.s !== 'data'"}],
      "mark": {"type": "line", "strokeWidth": 1.5},
      "encoding": {
        "x": {"field": "t", "type": "quantitative", "axis": {"orient": "top", "values": [2600,2800,3000,3200,3400,3600,3800,4000], "labels": false, "title": null}},
        "y": {"field": "f", "type": "quantitative", "axis": {"orient": "right", "values": [200,400,600,800,1000,1200,1400,1600], "labels": false, "title": null}},
        "color": {"field": "s", "type": "nominal", "scale": {"domain": ["data", "model 3", "model 4"], "range": ["#000000", "#ff0000", "#0000ff"]},
          "legend": {"encode": {"symbols": {"update": {
            "shape": {"signal": "datum.value === 'data' ? 'circle' : 'M-4,0H4M5.4,0'"},
            "size": {"signal": "datum.value === 'data' ? 22 : 100"},
            "fill": {"signal": "datum.value === 'data' ? '#000000' : 'transparent'"},
            "stroke": {"signal": "datum.value === 'data' ? 'transparent' : datum.value === 'model 3' ? '#ff0000' : '#0000ff'"},
            "strokeWidth": {"value": 1.5},
            "opacity": {"value": 1}}}}}}
      }
    }
  ]
}
]
}
